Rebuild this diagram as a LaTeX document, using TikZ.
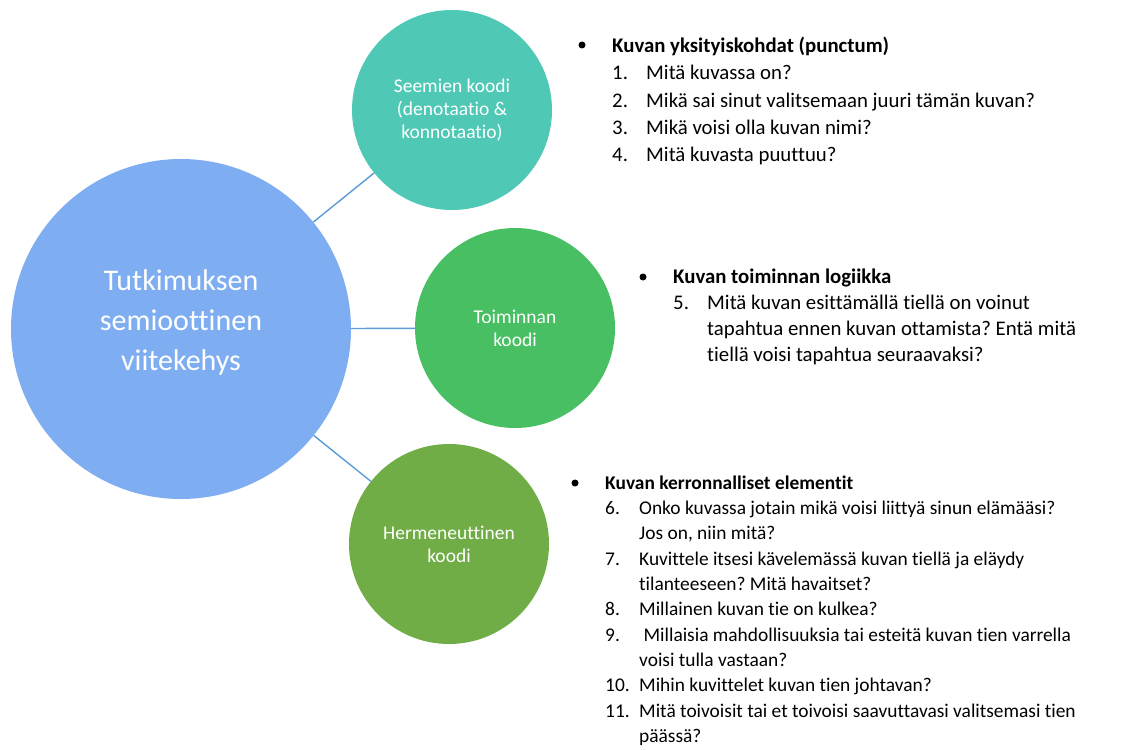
\documentclass[tikz,border=0pt]{standalone}
\usepackage{fontspec}
\setmainfont{Carlito}[Ligatures={TeX,NoCommon}]
\usetikzlibrary{positioning}
\frenchspacing

\definecolor{frameblue}{HTML}{7EAEF1}
\definecolor{seemteal}{HTML}{4FC9B5}
\definecolor{toimgreen}{HTML}{48BF63}
\definecolor{hermgreen}{HTML}{70AD47}
\definecolor{linkblue}{HTML}{5B9BD5}

\begin{document}
\begin{tikzpicture}[x=1pt,y=-1pt,
	bubble/.style={circle,minimum size=200pt,inner sep=0pt,text=white,align=center,font=\fontsize{19.5}{23}\selectfont},
	dot/.style={circle,fill=black,inner sep=0pt,minimum size=7pt},
	qline/.style={anchor=base west,inner sep=0pt,font=\fontsize{20.8}{24}\selectfont},
	qhead/.style={qline,font=\fontsize{20.8}{24}\selectfont\bfseries},
	sline/.style={qline,font=\fontsize{19.4}{24}\selectfont},
	shead/.style={qline,font=\fontsize{19.4}{24}\selectfont\bfseries},
	link/.style={draw=linkblue,line width=1.4pt}]
	\useasboundingbox (0,0) rectangle (1123,749);
	% circles
	\node[bubble,fill=frameblue,minimum size=340pt] (frame) at (181,329) {};
	\node[text=white,align=center,font=\fontsize{30}{40}\selectfont] (frametext) at ([yshift=7pt]frame.center) {Tutkimuksen\\semioottinen\\viitekehys};
	\node[bubble,fill=seemteal] (seem) at (452,110) {Seemien koodi\\(denotaatio \&\\konnotaatio)};
	\node[bubble,fill=toimgreen] (toim) at (515,328) {Toiminnan\\koodi};
	\node[bubble,fill=hermgreen] (herm) at (449,544) {Hermeneuttinen\\koodi};
	\draw[link] (frame) -- (seem);
	\draw[link] (frame) -- (toim);
	\draw[link] (frame) -- (herm);
	% punctum
	\node[dot] (bulA) at (582,45) {};
	\node[qhead] (headA) at (612,53) {Kuvan yksityiskohdat (punctum)};
	\foreach \n/\t [count=\i] in {1./Mitä kuvassa on?, 2./Mikä sai sinut valitsemaan juuri tämän kuvan?, 3./Mikä voisi olla kuvan nimi?, 4./Mitä kuvasta puuttuu?}
	{
	\node[qline] (numA\i) at (612,{53+27*\i}) {\n};
	\node[qline] (itemA\i) at (646,{53+27*\i}) {\t};
	}
	% toiminnan logiikka
	\node[dot] (bulB) at (643,277) {};
	\node[qhead] (headB) at (673,283) {Kuvan toiminnan logiikka};
	\foreach \n/\t [count=\i] in {5./Mitä kuvan esittämällä tiellä on voinut, /{tapahtua ennen kuvan ottamista? Entä mitä}, /tiellä voisi tapahtua seuraavaksi?}
	{
	\node[qline] (numB\i) at (673,{283+26.2*\i}) {\n};
	\node[qline] (itemB\i) at (707,{283+26.2*\i}) {\t};
	}
	% kerronnalliset elementit
	\node[dot] (bulC) at (575,483) {};
	\node[shead] (headC) at (605,489) {Kuvan kerronnalliset elementit};
	\foreach \n/\t [count=\i] in {6./Onko kuvassa jotain mikä voisi liittyä sinun elämääsi?, /{Jos on, niin mitä?}, 7./Kuvittele itsesi kävelemässä kuvan tiellä ja eläydy, /tilanteeseen? Mitä havaitset?, 8./Millainen kuvan tie on kulkea?, 9./{\ Millaisia mahdollisuuksia tai esteitä kuvan tien varrella}, /voisi tulla vastaan?, 10./Mihin kuvittelet kuvan tien johtavan?, 11./Mitä toivoisit tai et toivoisi saavuttavasi valitsemasi tien, /päässä?}
	{
	\node[sline] (numC\i) at (605,{489+25.35*\i}) {\n};
	\node[sline] (itemC\i) at (639,{489+25.35*\i}) {\t};
	}
\end{tikzpicture}
\end{document}
